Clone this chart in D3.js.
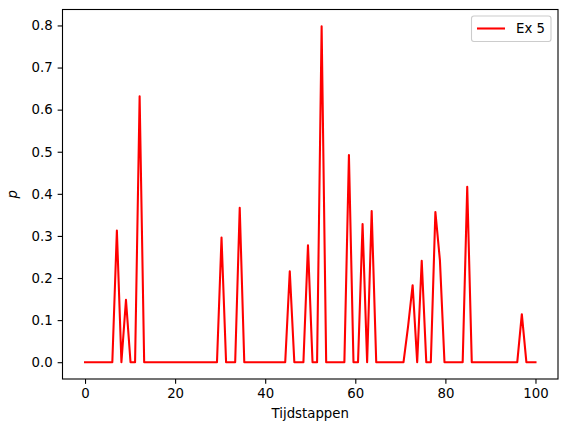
<!DOCTYPE html>
<html>
<head>
<meta charset="utf-8">
<script src="https://cdn.jsdelivr.net/npm/d3@7"></script>
<style>
  html, body { margin: 0; padding: 0; background: #fff; }
  svg { display: block; font-family: "DejaVu Sans", sans-serif; }
</style>
</head>
<body>
<svg id="chart" width="568" height="432"></svg>
<script>
// ---- data (100 time steps spanning 0..100) ----
const seriesName = "Ex 5";
const nSteps = 100;
const peakIndex = [7, 9, 12, 30, 34, 45, 49, 52, 58, 61, 63, 71, 72, 74, 77, 78, 84, 96];
const peakValue = [0.313, 0.148, 0.632, 0.296, 0.367, 0.216, 0.278, 0.798, 0.492, 0.328, 0.359, 0.085, 0.183, 0.241, 0.357, 0.242, 0.417, 0.114];
const xTicks = [0, 20, 40, 60, 80, 100];
const yTicks = [0.0, 0.1, 0.2, 0.3, 0.4, 0.5, 0.6, 0.7, 0.8];
const xLabel = "Tijdstappen";
const yLabel = "p";

(function () {
// build series
const values = new Array(nSteps).fill(0);
peakIndex.forEach((k, i) => { values[k] = peakValue[i]; });
const data = values.map((v, i) => ({ x: i * 100 / (nSteps - 1), y: v }));

const svg = d3.select("#chart");
const mLeft = 62.5, mRight = 558, mTop = 9.5, mBottom = 379;

const xMin = 0, xMax = 100, xPad = (xMax - xMin) * 0.05;
const yMin = d3.min(values), yMax = d3.max(values), yPad = (yMax - yMin) * 0.05;

const x = d3.scaleLinear().domain([xMin - xPad, xMax + xPad]).range([mLeft, mRight]);
const y = d3.scaleLinear().domain([yMin - yPad, yMax + yPad]).range([mBottom, mTop]);

svg.append("defs").append("clipPath").attr("id", "clip")
  .append("rect").attr("x", mLeft).attr("y", mTop).attr("width", mRight - mLeft).attr("height", mBottom - mTop);

svg.append("path")
  .datum(data)
  .attr("clip-path", "url(#clip)")
  .attr("fill", "none")
  .attr("stroke", "#ff0000")
  .attr("stroke-width", 2.08)
  .attr("stroke-linejoin", "round")
  .attr("stroke-linecap", "square")
  .attr("d", d3.line().x(d => x(d.x)).y(d => y(d.y)));

// axes
const xAxis = d3.axisBottom(x).tickValues(xTicks).tickFormat(d3.format("d")).tickSizeOuter(0).tickSize(4.86).tickPadding(4.9);
const yAxis = d3.axisLeft(y).tickValues(yTicks).tickFormat(d3.format(".1f")).tickSizeOuter(0).tickSize(4.86).tickPadding(4.9);

const gx = svg.append("g").attr("transform", `translate(0,${mBottom})`).call(xAxis);
const gy = svg.append("g").attr("transform", `translate(${mLeft},0)`).call(yAxis);
[gx, gy].forEach(g => {
  g.select(".domain").remove();
  g.selectAll("line").attr("stroke", "#000").attr("stroke-width", 1.1);
  g.selectAll("text").attr("font-family", "DejaVu Sans").attr("font-size", "13.3px").attr("fill", "#000");
});

// frame
svg.append("rect")
  .attr("x", mLeft).attr("y", mTop).attr("width", mRight - mLeft).attr("height", mBottom - mTop)
  .attr("fill", "none").attr("stroke", "#000").attr("stroke-width", 1.1);

// labels
svg.append("text")
  .attr("x", (mLeft + mRight) / 2).attr("y", 418)
  .attr("text-anchor", "middle")
  .attr("font-size", "13.3px").attr("fill", "#000")
  .text(xLabel);

svg.append("text")
  .attr("transform", `translate(17,${(mTop + mBottom) / 2}) rotate(-90)`)
  .attr("text-anchor", "middle")
  .attr("font-size", "13.3px").attr("font-style", "italic").attr("fill", "#000")
  .text(yLabel);

// legend
const lg = svg.append("g");
lg.append("rect")
  .attr("x", 471.5).attr("y", 16).attr("width", 79.5).attr("height", 25.5)
  .attr("rx", 2.5).attr("ry", 2.5)
  .attr("fill", "#fff").attr("fill-opacity", 0.8)
  .attr("stroke", "#cccccc").attr("stroke-width", 1.1);
lg.append("line")
  .attr("x1", 477).attr("x2", 505).attr("y1", 28.5).attr("y2", 28.5)
  .attr("stroke", "#ff0000").attr("stroke-width", 2.08);
lg.append("text")
  .attr("x", 516).attr("y", 33.3)
  .attr("font-size", "13.3px").attr("fill", "#000")
  .text(seriesName);
})();
</script>
</body>
</html>
